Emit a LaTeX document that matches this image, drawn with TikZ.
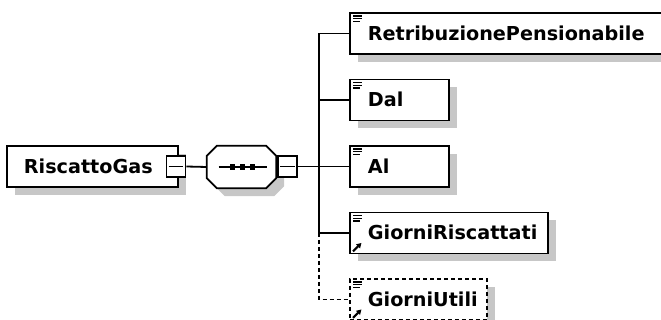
\documentclass[tikz,border=0pt]{standalone}
\usepackage{fontspec}
\setmainfont{DejaVu Sans}
\usetikzlibrary{shadows,arrows.meta}
\begin{document}
\begin{tikzpicture}[x=1pt,y=-1pt,
  shade/.style={drop shadow={shadow xshift=8pt,shadow yshift=-8pt,fill=black!22,opacity=1}},
  elem/.style={draw,line width=1.8pt,fill=white,shade,anchor=west,minimum height=41pt,
    inner xsep=18pt,inner ysep=0pt,text width=#1-36pt,align=left,
    text height=14pt,text depth=0pt,font=\fontsize{19.2}{20}\selectfont\bfseries},
  optelem/.style={elem=#1,dash pattern=on 4pt off 3pt},
  minusbox/.style={draw,line width=1.6pt,fill=white,minimum width=19pt,minimum height=21pt,inner sep=0pt},
  conn/.style={line width=1.8pt},
  optconn/.style={line width=1.8pt,dash pattern=on 4pt off 3pt},
  icon/.style={line width=1.3pt},
  refarrow/.style={line width=2pt,-{Triangle[length=5pt,width=5.5pt]}}
]
\useasboundingbox (0,0) rectangle (661,320);

% root element
\node[elem=171pt,inner xsep=17pt,text width=137pt] (root) at (6,166.5) {RiscattoGas};
\node[minusbox,anchor=center] (m1) at (176,166.5) {};
\draw[conn] ([xshift=3pt]m1.west) -- ([xshift=-3pt]m1.east);

% sequence compositor
\node[minimum width=69pt,minimum height=42pt,inner sep=0pt] (seq) at (241.5,167) {};
\path[draw,fill=white,line width=1.8pt,shade]
  ([xshift=10pt]seq.north west) -- ([xshift=-10pt]seq.north east)
  -- ([yshift=-10pt]seq.north east) -- ([yshift=10pt]seq.south east)
  -- ([xshift=-10pt]seq.south east) -- ([xshift=10pt]seq.south west)
  -- ([yshift=10pt]seq.south west) -- ([yshift=-10pt]seq.north west) -- cycle;
\draw[conn] ([xshift=-23pt]seq.center) -- ([xshift=25pt]seq.center);
\foreach \dx in {-9,1,11}
  \fill ([xshift=\dx pt]seq.center) ++(-2.7,-2.7) rectangle ++(5.4,5.4);
\node[minusbox,anchor=west] (m2) at ([xshift=1pt,yshift=0.5pt]seq.east) {};
\draw[conn] ([xshift=3pt]m2.west) -- ([xshift=-3pt]m2.east);

\draw[conn] (m1.east) -- (seq.west);
\coordinate (bus) at (319,166.5);
\draw[conn] (m2.east) -- (bus);

% children
\node[elem=312pt] (c1) at (349,33.5) {RetribuzionePensionabile};
\node[elem=99pt] (c2) at (349,100) {Dal};
\node[elem=99pt] (c3) at (349,166.5) {Al};
\node[elem=198pt] (c4) at (349,233) {GiorniRiscattati};
\node[optelem=137pt] (c5) at (349,299.5) {GiorniUtili};

% icons
\foreach \n in {c1,c2,c3,c4,c5}{
  \draw[icon] ([shift={(4,4)}]\n.north west) -- ++(9,0);
  \draw[icon] ([shift={(4,6.7)}]\n.north west) -- ++(9,0);
  \draw[icon] ([shift={(4,9.4)}]\n.north west) -- ++(7,0);
}
\foreach \n in {c4,c5}
  \draw[refarrow] ([shift={(4,-3)}]\n.south west) -- ([shift={(12.5,-11.5)}]\n.south west);

% connectors to children
\draw[conn] (c1.west -| bus) -- (c4.west -| bus);
\foreach \n in {c1,c2,c3,c4}
  \draw[conn] (\n.west -| bus) -- (\n.west);
\draw[optconn] (c4.west -| bus) -- (c5.west -| bus) -- (c5.west);
\end{tikzpicture}
\end{document}
